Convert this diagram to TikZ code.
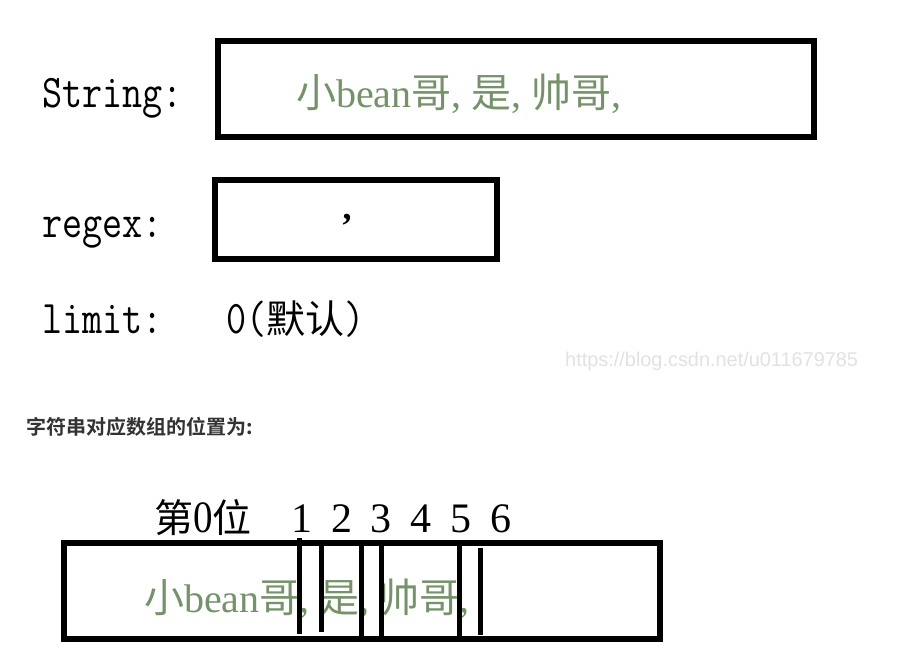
\documentclass[tikz,border=0pt]{standalone}
\usepackage{fontspec}
\setmainfont{Liberation Serif}
\newfontfamily\cjk{Noto Sans CJK SC}
\newfontfamily\cjkbold{Noto Sans CJK SC Bold}
\newfontfamily\wmfont{Liberation Sans}
\definecolor{strgreen}{RGB}{118,146,106}
\definecolor{headgray}{RGB}{51,51,51}
\definecolor{wmgray}{RGB}{226,226,226}
\newcommand{\cm}{\makebox[0.5em][l]{,}}
\newcommand{\mystr}{{\cjk 小}bean{\cjk 哥}\cm{\cjk 是}\cm{\cjk 帅哥}\cm}
\tikzset{
  frame/.style={draw=black, line width=6pt},
  bar/.style={draw=black, line width=5pt},
  lbl/.style={anchor=base west, inner sep=0pt, font=\fontsize{39}{42}\selectfont\ttfamily},
  strtxt/.style={anchor=base west, inner sep=0pt, text=strgreen, font=\fontsize{40}{42}\selectfont},
  idx/.style={anchor=base, inner sep=0pt, font=\fontsize{42}{44}\selectfont},
}
\begin{document}
\begin{tikzpicture}[x=1pt,y=-1pt]
\useasboundingbox[fill=white] (0,0) rectangle (920,655);
% labels
\node[lbl] (lstr) at (42,108) {\scalebox{1}[1.2]{String:}};
\node[lbl] (lreg) at (42,237) {\scalebox{1}[1.2]{regex:}};
\node[lbl] (llim) at (42,333) {\scalebox{1}[1.2]{limit:}};
\node[lbl] (lzero) at (226,333) {\scalebox{1}[1.2]{0(}{\cjk\fontsize{39}{40}\selectfont 默认}\scalebox{1}[1.2]{)}};
% boxes
\draw[frame] (218,41) rectangle (814,137);
\node[strtxt] (s1) at (296,108) {\mystr};
\draw[frame] (215,180) rectangle (497,259);
\node[inner sep=0pt, font=\fontsize{36}{38}\selectfont\bfseries] (comma) at (347,220) {,};
% watermark
\node[anchor=base west, inner sep=0pt, text=wmgray, font=\fontsize{19.9}{20}\selectfont\wmfont] (wm) at (565,366) {https://blog.csdn.net/u011679785};
% heading
\node[anchor=base west, inner sep=0pt, text=headgray, font=\fontsize{20}{22}\selectfont\cjkbold] (head) at (26,434) {字符串对应数组的位置为:};
% indices
\node[anchor=base west, inner sep=0pt, font=\fontsize{39}{40}\selectfont] (i0) at (154,532) {{\cjk 第}\scalebox{1}[1.15]{0}{\cjk 位}};
\node[idx] (i1) at (302,532) {1};
\node[idx] (i2) at (342,532) {2};
\node[idx] (i3) at (381,532) {3};
\node[idx] (i4) at (421,532) {4};
\node[idx] (i5) at (461,532) {5};
\node[idx] (i6) at (501,532) {6};
% bottom box
\draw[frame] (64,543) rectangle (660,639);
\node[strtxt] (s2) at (144,612) {\mystr};
\coordinate (b1t) at (299,538); \coordinate (b1b) at (299,634);
\coordinate (b2t) at (321,546); \coordinate (b2b) at (321,632);
\coordinate (b3t) at (361,546); \coordinate (b3b) at (361,640);
\coordinate (b4t) at (381,546); \coordinate (b4b) at (381,640);
\coordinate (b5t) at (459,546); \coordinate (b5b) at (459,640);
\coordinate (b6t) at (480,548); \coordinate (b6b) at (480,635);
\draw[bar] (b1t) -- (b1b);
\draw[bar] (b2t) -- (b2b);
\draw[bar] (b3t) -- (b3b);
\draw[bar] (b4t) -- (b4b);
\draw[bar] (b5t) -- (b5b);
\draw[bar] (b6t) -- (b6b);
\end{tikzpicture}
\end{document}
